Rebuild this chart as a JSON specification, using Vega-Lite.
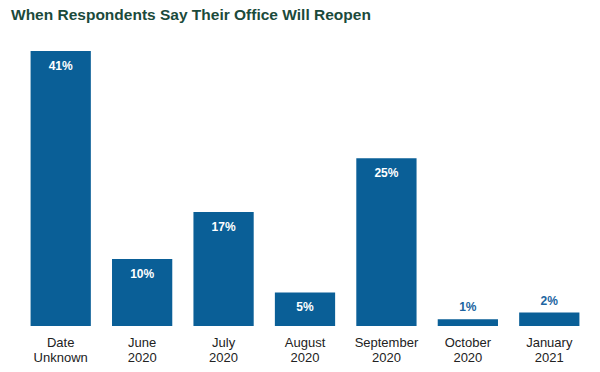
{
  "$schema": "https://vega.github.io/schema/vega-lite/v6.json",
  "autosize": "none",
  "width": 570,
  "height": 275,
  "padding": {"left": 20, "top": 51, "right": 10, "bottom": 46},
  "background": "white",
  "config": {"view": {"stroke": null}, "font": "Liberation Sans"},
  "title": {
    "text": "When Respondents Say Their Office Will Reopen",
    "anchor": "start",
    "frame": "group",
    "dx": -9,
    "offset": 28,
    "fontSize": 15.5,
    "fontWeight": "bold",
    "color": "#1b4a3b",
    "font": "Liberation Sans"
  },
  "data": {
    "values": [
      {"category": "Date Unknown", "value": 41},
      {"category": "June 2020", "value": 10},
      {"category": "July 2020", "value": 17},
      {"category": "August 2020", "value": 5},
      {"category": "September 2020", "value": 25},
      {"category": "October 2020", "value": 1},
      {"category": "January 2021", "value": 2}
    ]
  },
  "transform": [{"calculate": "datum.value + '%'", "as": "label"}],
  "encoding": {
    "x": {
      "field": "category",
      "type": "nominal",
      "sort": null,
      "scale": {"paddingInner": 0.26, "paddingOuter": 0.13},
      "axis": {
        "title": null,
        "labelAngle": 0,
        "domain": false,
        "ticks": false,
        "labelPadding": 10,
        "labelFontSize": 13,
        "labelColor": "#222222",
        "labelLineHeight": 15,
        "labelExpr": "split(datum.label, ' ')"
      }
    },
    "y": {
      "field": "value",
      "type": "quantitative",
      "scale": {"domain": [0, 41]},
      "axis": null
    }
  },
  "layer": [
    {"mark": {"type": "bar", "color": "#0a5f97"}},
    {
      "transform": [{"filter": "datum.value >= 5"}],
      "mark": {"type": "text", "color": "white", "fontWeight": "bold", "fontSize": 12, "baseline": "middle", "dy": 15},
      "encoding": {"text": {"field": "label"}}
    },
    {
      "transform": [{"filter": "datum.value < 5"}],
      "mark": {"type": "text", "color": "#2064a0", "fontWeight": "bold", "fontSize": 12, "baseline": "middle", "dy": -12},
      "encoding": {"text": {"field": "label"}}
    }
  ]
}
